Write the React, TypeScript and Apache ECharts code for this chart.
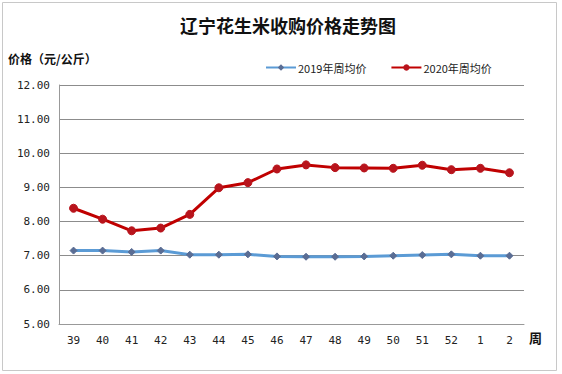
import React, { useEffect, useRef } from "react";
import * as echarts from "echarts";

const weeks = ["39", "40", "41", "42", "43", "44", "45", "46", "47", "48", "49", "50", "51", "52", "1", "2"];
const price2019 = [7.15, 7.15, 7.11, 7.15, 7.03, 7.03, 7.04, 6.98, 6.97, 6.97, 6.98, 7.0, 7.02, 7.04, 7.0, 7.0];
const price2020 = [8.39, 8.07, 7.73, 7.81, 8.21, 8.99, 9.14, 9.54, 9.66, 9.58, 9.57, 9.56, 9.65, 9.52, 9.56, 9.43];
const seriesNames = ["2019年周均价", "2020年周均价"];
const titleText = "辽宁花生米收购价格走势图";
const yAxisTitle = "价格（元/公斤）";
const xAxisTitle = "周";

export default function App() {
  const ref = useRef<HTMLDivElement>(null);
  useEffect(() => {
    if (!ref.current) return;
    const chart = echarts.init(ref.current, null, { renderer: "svg" });
    const labelFont = "'DejaVu Sans Mono', 'Liberation Mono', monospace";
    chart.setOption({
      animation: false,
      backgroundColor: "#ffffff",
      title: {
        text: titleText,
        left: 283,
        top: 11,
        textAlign: "center",
        textStyle: {
          fontFamily: "'Noto Sans CJK SC', sans-serif",
          fontSize: 18,
          fontWeight: "bold",
          color: "#111",
        },
      },
      legend: {
        left: 260,
        top: 57,
        itemGap: 24,
        itemWidth: 30,
        itemHeight: 8,
        textStyle: {
          fontFamily: "'Noto Sans CJK SC', sans-serif",
          fontSize: 11,
          color: "#222",
          padding: [0, 0, 0, -3],
        },
        data: seriesNames,
      },
      grid: { left: 59, right: 38, top: 85, bottom: 50 },
      xAxis: {
        type: "category",
        data: weeks,
        boundaryGap: true,
        axisLine: { lineStyle: { color: "#999", width: 1 } },
        axisTick: { show: false },
        axisLabel: {
          margin: 11,
          fontFamily: labelFont,
          fontSize: 11,
          color: "#222",
        },
      },
      yAxis: {
        type: "value",
        min: 5,
        max: 12,
        interval: 1,
        axisLine: { show: true, lineStyle: { color: "#999", width: 1 } },
        axisTick: { show: false },
        splitLine: { lineStyle: { color: "#8c8c8c", width: 1 } },
        axisLabel: {
          margin: 9,
          fontFamily: labelFont,
          fontSize: 11,
          color: "#222",
          formatter: (v: number) => v.toFixed(2),
        },
      },
      graphic: [
        {
          type: "rect",
          shape: { x: 2.5, y: 2.5, width: 554, height: 368 },
          style: { fill: "none", stroke: "#c8c8c8", lineWidth: 1 },
          silent: true,
        },
        {
          type: "text",
          left: 8,
          top: 52,
          style: {
            text: yAxisTitle,
            fontFamily: "'Noto Sans CJK SC', sans-serif",
            fontSize: 12,
            fontWeight: "bold",
            fill: "#111",
          },
        },
        {
          type: "text",
          left: 529,
          top: 331,
          style: {
            text: xAxisTitle,
            fontFamily: "'Noto Sans CJK SC', sans-serif",
            fontSize: 13,
            fontWeight: "bold",
            fill: "#111",
          },
        },
      ],
      series: [
        {
          name: seriesNames[0],
          type: "line",
          data: price2019,
          symbol: "diamond",
          symbolSize: 7,
          lineStyle: { color: "#5b9bd5", width: 3 },
          itemStyle: { color: "#5a6d94", borderColor: "#5a6d94" },
          z: 2,
        },
        {
          name: seriesNames[1],
          type: "line",
          data: price2020,
          symbol: "circle",
          symbolSize: 8,
          lineStyle: { color: "#c00000", width: 3 },
          itemStyle: { color: "#b8141c", borderColor: "#b8141c" },
          z: 3,
        },
      ],
    });
    return () => chart.dispose();
  }, []);
  return (
    <div
      ref={ref}
      style={{ position: "absolute", left: 0, top: 0, width: 562, height: 374 }}
    />
  );
}
